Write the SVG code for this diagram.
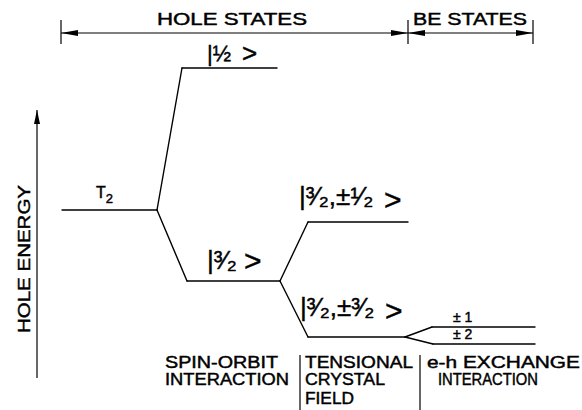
<svg xmlns="http://www.w3.org/2000/svg" width="582" height="410" viewBox="0 0 582 410">
<style>
  .ln { stroke:#000; stroke-width:1.4; fill:none; stroke-linecap:round; stroke-linejoin:round; }
  .tk { stroke:#000; stroke-width:1.2; fill:none; }
  text { font-family:"Liberation Sans", "DejaVu Sans", Arial, sans-serif; fill:#000; stroke:#000; stroke-width:0.45; }
  .hd { font-size:17px; }
  .bt { font-size:16.5px; }
  .st { font-size:26px; }
  .gt { font-size:30px; }
</style>
<defs>
  <marker id="ah" markerUnits="userSpaceOnUse" markerWidth="17" markerHeight="7" refX="17" refY="3.5" orient="auto-start-reverse">
    <path d="M0,0.5 L17,3.5 L0,6.5 z" fill="#000"/>
  </marker>
  <marker id="av" markerUnits="userSpaceOnUse" markerWidth="14" markerHeight="7" refX="14" refY="3.5" orient="auto">
    <path d="M0,0.5 L14,3.5 L0,6.5 z" fill="#000"/>
  </marker>
</defs>

<g id="header">
  <line class="tk" x1="61" y1="20" x2="61" y2="44"/>
  <line class="tk" x1="408" y1="20" x2="408" y2="44"/>
  <line class="tk" x1="533" y1="20" x2="533" y2="44"/>
  <line class="tk" x1="61" y1="33" x2="408" y2="33" marker-start="url(#ah)" marker-end="url(#ah)"/>
  <line class="tk" x1="408" y1="33" x2="533" y2="33" marker-start="url(#ah)" marker-end="url(#ah)"/>
  <text class="hd" x="157" y="25" textLength="150" lengthAdjust="spacingAndGlyphs">HOLE STATES</text>
  <text class="hd" x="413" y="25" textLength="114" lengthAdjust="spacingAndGlyphs">BE STATES</text>
</g>

<g id="axis">
  <line class="tk" x1="37" y1="378" x2="37" y2="110" marker-end="url(#av)"/>
  <text class="hd" transform="translate(30,333) rotate(-90)" x="0" y="0" textLength="148" lengthAdjust="spacingAndGlyphs">HOLE ENERGY</text>
</g>

<g id="connectors">
  <path class="ln" d="M157,210 L182,68"/>
  <path class="ln" d="M157,210 L187,281"/>
  <path class="ln" d="M280,281 L308,222"/>
  <path class="ln" d="M280,281 L308,337"/>
  <path class="ln" d="M405,337 L432,327"/>
  <path class="ln" d="M405,337 L433,344"/>
</g>

<g id="T2">
  <line class="ln" x1="62" y1="210" x2="157" y2="210"/>
  <text style="font-size:16px" x="96" y="198">T<tspan dy="5" style="font-size:13px">2</tspan></text>
</g>

<g id="j12">
  <line class="ln" x1="182" y1="68" x2="277" y2="68"/>
  <text style="font-size:22px" x="207" y="61">|½<tspan x="242" y="62" style="font-size:26px">&gt;</tspan></text>
</g>

<g id="j32">
  <line class="ln" x1="187" y1="281" x2="280" y2="281"/>
  <text class="st" x="207" y="269">|³⁄₂<tspan x="244" y="271" class="gt">&gt;</tspan></text>
</g>

<g id="j32m12">
  <line class="ln" x1="308" y1="222" x2="408" y2="222"/>
  <text class="st" x="299" y="205">|³⁄₂,±¹⁄₂<tspan x="384" y="210" class="gt">&gt;</tspan></text>
</g>

<g id="j32m32">
  <line class="ln" x1="308" y1="337" x2="405" y2="337"/>
  <text class="st" x="300" y="316">|³⁄₂,±³⁄₂<tspan x="385" y="321" class="gt">&gt;</tspan></text>
</g>

<g id="be1">
  <line class="ln" x1="432" y1="327" x2="535" y2="327"/>
  <text style="font-size:14px" x="453" y="322">± 1</text>
</g>

<g id="be2">
  <line class="ln" x1="433" y1="344" x2="535" y2="344"/>
  <text style="font-size:14px" x="453" y="339">± 2</text>
</g>

<g id="footer">
  <line class="tk" x1="300" y1="355" x2="300" y2="410"/>
  <line class="tk" x1="420" y1="355" x2="420" y2="410"/>
  <text class="bt" x="165" y="368" textLength="113" lengthAdjust="spacingAndGlyphs">SPIN-ORBIT</text>
  <text class="bt" x="165" y="385" textLength="124" lengthAdjust="spacingAndGlyphs">INTERACTION</text>
  <text class="bt" x="305" y="368" textLength="108" lengthAdjust="spacingAndGlyphs">TENSIONAL</text>
  <text class="bt" x="305" y="385" textLength="80" lengthAdjust="spacingAndGlyphs">CRYSTAL</text>
  <text class="bt" x="305" y="404" textLength="49" lengthAdjust="spacingAndGlyphs">FIELD</text>
  <text class="bt" x="427" y="368" textLength="153" lengthAdjust="spacingAndGlyphs">e-h EXCHANGE</text>
  <text class="bt" x="438" y="385" textLength="100" lengthAdjust="spacingAndGlyphs">INTERACTION</text>
</g>
</svg>
